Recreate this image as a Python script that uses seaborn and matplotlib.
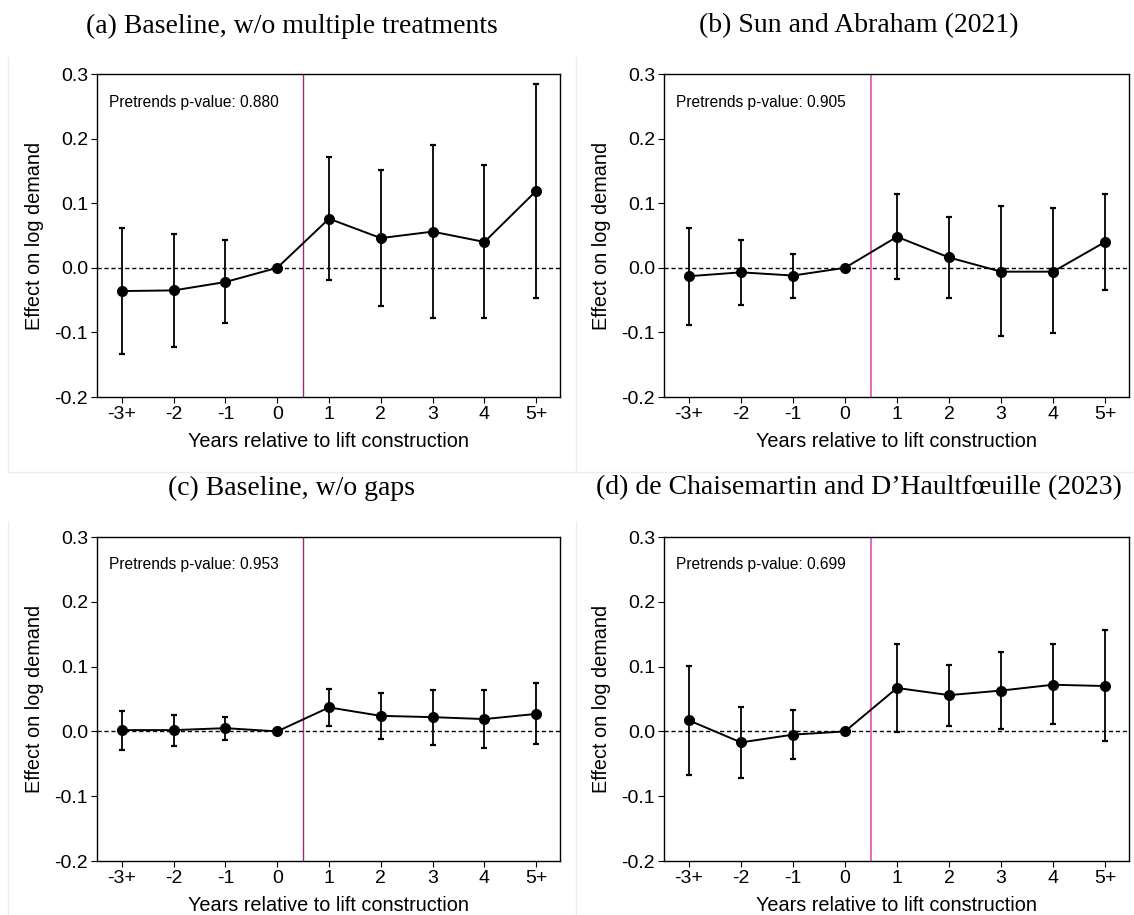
import matplotlib
matplotlib.use("Agg")
import matplotlib.pyplot as plt
import seaborn as sns
import numpy as np
import pandas as pd
from matplotlib.lines import Line2D

sns.set_theme(style="ticks")
plt.rcParams['font.family'] = ['Liberation Sans', 'DejaVu Sans']

# ---------------- data ----------------
categories = ["-3+", "-2", "-1", "0", "1", "2", "3", "4", "5+"]

titles = [
    "(a) Baseline, w/o multiple treatments",
    "(b) Sun and Abraham (2021)",
    "(c) Baseline, w/o gaps",
    "(d) de Chaisemartin and D\u2019Haultf\u0153uille (2023)",
]
pvalues = ["0.880", "0.905", "0.953", "0.699"]

est_a = [-0.036, -0.035, -0.022, 0.0, 0.076, 0.046, 0.056, 0.040, 0.119]
lo_a = [-0.133, -0.122, -0.086, np.nan, -0.019, -0.059, -0.077, -0.077, -0.047]
hi_a = [0.062, 0.052, 0.043, np.nan, 0.172, 0.152, 0.190, 0.159, 0.285]

est_b = [-0.013, -0.007, -0.012, 0.0, 0.048, 0.016, -0.006, -0.006, 0.040]
lo_b = [-0.089, -0.057, -0.046, np.nan, -0.017, -0.047, -0.106, -0.101, -0.035]
hi_b = [0.062, 0.043, 0.022, np.nan, 0.114, 0.079, 0.095, 0.092, 0.115]

est_c = [0.002, 0.002, 0.005, 0.0, 0.037, 0.024, 0.022, 0.019, 0.027]
lo_c = [-0.028, -0.022, -0.013, np.nan, 0.008, -0.011, -0.021, -0.026, -0.020]
hi_c = [0.032, 0.026, 0.022, np.nan, 0.066, 0.059, 0.064, 0.064, 0.074]

est_d = [0.017, -0.017, -0.005, 0.0, 0.067, 0.056, 0.063, 0.072, 0.070]
lo_d = [-0.068, -0.072, -0.042, np.nan, -0.001, 0.008, 0.004, 0.011, -0.015]
hi_d = [0.101, 0.038, 0.033, np.nan, 0.135, 0.103, 0.122, 0.135, 0.156]

panels = [(est_a, lo_a, hi_a), (est_b, lo_b, hi_b),
          (est_c, lo_c, hi_c), (est_d, lo_d, hi_d)]
vline_colors = ["#a3287a", "#df72c0", "#a3287a", "#df72c0"]
vline_widths = [1.0, 1.5, 1.0, 1.5]

yticks = [-0.2, -0.1, 0.0, 0.1, 0.2, 0.3]

# ---------------- figure ----------------
W, H = 1134, 915
fig = plt.figure(figsize=(W / 100, H / 100), dpi=100)

# axes boxes in pixels: left, top, right, bottom
boxes = [(97, 74, 560, 397), (664, 74, 1129, 397),
         (97, 537, 560, 861), (664, 537, 1129, 861)]
title_pos = [(292, 26), (859, 26), (292, 488), (859, 488)]
ylabel_x = [35, 602, 35, 602]

# faint panel frames
frame_col = "#ececec"
for x0 in (8, 576):
    fig.add_artist(Line2D([x0 / W, x0 / W], [1 - 57 / H, 1 - 472 / H],
                          transform=fig.transFigure, color=frame_col, lw=1))
    fig.add_artist(Line2D([x0 / W, x0 / W], [1 - 522 / H, 0],
                          transform=fig.transFigure, color=frame_col, lw=1))
fig.add_artist(Line2D([8 / W, 1], [1 - 472 / H, 1 - 472 / H],
                      transform=fig.transFigure, color=frame_col, lw=1))

for i, (est, lo, hi) in enumerate(panels):
    l, t, r, b = boxes[i]
    ax = fig.add_axes([l / W, 1 - b / H, (r - l) / W, (b - t) / H])
    x = np.arange(len(categories))
    df = pd.DataFrame({"x": x, "est": est, "lo": lo, "hi": hi})

    ax.axhline(0, color="black", lw=1.0, ls=(0, (3, 2)), zorder=1)
    ax.axvline(3.5, color=vline_colors[i], lw=vline_widths[i], zorder=1)

    ci = df.dropna()
    ax.errorbar(ci["x"], ci["est"],
                yerr=[ci["est"] - ci["lo"], ci["hi"] - ci["est"]],
                fmt="none", ecolor="black", elinewidth=1.3, capsize=2.2,
                capthick=1.6, zorder=2)
    sns.lineplot(data=df, x="x", y="est", ax=ax, color="black", lw=1.4,
                 marker="o", markersize=7.2, markeredgecolor="black",
                 markerfacecolor="black", zorder=3)

    ax.set_xlim(-0.48, 8.46)
    ax.set_ylim(-0.2, 0.3)
    ax.set_xticks(x)
    ax.set_xticklabels(categories)
    ax.set_yticks(yticks)
    ax.set_yticklabels([f"{v:.1f}" for v in yticks])
    ax.tick_params(axis="both", labelsize=14, length=4, width=0.8,
                   color="black", labelcolor="black", pad=2.5, direction="out")
    for s in ax.spines.values():
        s.set_visible(True)
        s.set_color("black")
        s.set_linewidth(1.0)
    ax.set_facecolor("white")

    ax.set_xlabel("Years relative to lift construction", fontsize=14.3,
                  color="black")
    ax.set_ylabel("Effect on log demand", fontsize=14.3, color="black")
    ax.xaxis.set_label_coords(0.5, -35 / (b - t))
    ax.yaxis.set_label_coords((ylabel_x[i] + 9 - l) / (r - l), 0.5)

    ax.text(12 / (r - l), 1 - 28 / (b - t), f"Pretrends p-value: {pvalues[i]}",
            transform=ax.transAxes, fontsize=11.2, va="center", ha="left",
            color="black")

    tx, ty = title_pos[i]
    fig.text(tx / W, 1 - ty / H, titles[i], ha="center", va="center",
             fontsize=20, family=["Liberation Serif", "DejaVu Serif"],
             color="black")

fig.savefig("out.png", dpi=100, facecolor="white")
